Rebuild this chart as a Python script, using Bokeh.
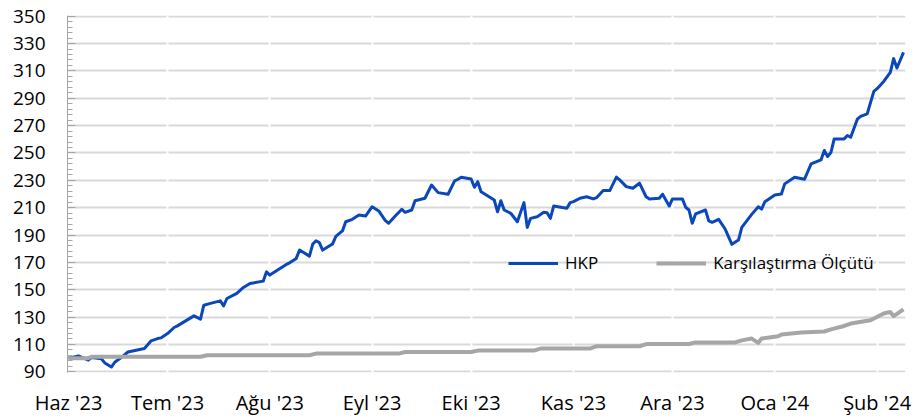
from bokeh.plotting import figure
from bokeh.models import Range1d, FixedTicker, Legend, LegendItem
from bokeh.embed import file_html
from bokeh.resources import INLINE

# days since 1 June 2023
hkp_day = [0, 3, 6, 7, 10, 11, 13, 14, 16, 18, 23, 25, 27, 28, 30, 32, 33, 35, 38, 40,
           41, 43, 46, 47, 48, 51, 53, 55, 59, 60, 61, 63, 66, 67, 69, 70, 73, 74, 75, 76,
           77, 80, 81, 83, 84, 86, 88, 90, 92, 94, 96, 97, 99, 101, 102, 104, 105, 108, 110, 112,
           115, 117, 118, 119, 122, 123, 124, 125, 129, 130, 131, 132, 134, 136, 138, 139, 140, 142, 144, 145,
           146, 147, 151, 152, 153, 155, 157, 159, 160, 162, 164, 166, 167, 169, 171, 173, 175, 176, 179, 180,
           182, 183, 186, 187, 188, 189, 190, 193, 194, 195, 197, 199, 201, 203, 204, 207, 209, 210, 211, 214,
           216, 217, 220, 223, 225, 228, 229, 230, 231, 232, 235, 236, 237, 239, 240, 242, 244, 245, 247, 249,
           250, 251, 253]
hkp_val = [100, 101.6, 98.5, 100.5, 99.5, 96.5, 93.5, 97, 100.4, 104.5, 107, 112.6, 114.3, 114.8, 118, 122.4, 123.6, 126.5, 130.9, 128.5,
           138.7, 140, 141.9, 138.2, 143.6, 147.3, 151.7, 154.6, 156.3, 163.1, 160.7, 163.9, 168.5, 169.7, 172.9, 179, 174.6, 183.4, 185.8, 184.5,
           179, 183.4, 189, 193, 199.7, 201.5, 204.6, 203.9, 210.7, 207.6, 200.5, 198.6, 203.9, 208.8, 206.6, 208.3, 215.1, 216.9, 226.6, 221,
           219.8, 229.6, 230.8, 232.3, 231, 224.9, 229, 221.7, 215.6, 207, 215.1, 208.3, 205.9, 199.7, 213.7, 195.6, 202.2, 203.4, 206.6, 206.3,
           202.2, 211.2, 209.6, 213.7, 214.4, 216.9, 218, 216.4, 217.3, 222.5, 222.5, 232.3, 230.3, 225.4, 224.2, 227.9, 218, 216.4, 216.9, 219.8,
           211.2, 216.4, 216.4, 210.3, 208.3, 198.6, 205.4, 208.3, 200.3, 199.3, 201.5, 194.2, 183.2, 186.3, 195.6, 205.1, 210.7, 209, 214.4, 219.3,
           220, 227.4, 232.3, 230.8, 242, 244.9, 251.8, 247.4, 250.3, 260.3, 260.3, 262.8, 261.5, 274.7, 276.7, 278.6, 295, 297, 302.3, 308.9,
           319, 312.1, 323.5]

bench_day = [0, 6, 7, 40, 42, 73, 75, 100, 102, 122, 124, 141, 143, 158, 160, 173, 175, 188, 190, 202,
             204, 207, 209, 210, 215, 216, 222, 229, 231, 235, 237, 243, 247, 249, 250, 253]
bench_val = [100, 100, 101, 101, 102.1, 102.1, 103.3, 103.3, 104.5, 104.5, 105.5, 105.5, 107, 107, 108.7, 108.7, 110.3, 110.3, 111.5, 111.5,
             113, 114.3, 111.2, 114.3, 116, 117.2, 118.7, 119.5, 121, 123.5, 125.3, 127.7, 132.6, 133.8, 130.7, 135.6]

month_day = [0, 30, 61, 92, 122, 153, 183, 214, 245]
month_label = ["Haz '23", "Tem '23", "Ağu '23", "Eyl '23", "Eki '23", "Kas '23", "Ara '23", "Oca '24", "Şub '24"]
y_ticks = list(range(90, 351, 20))
series_names = ["HKP", "Karşılaştırma Ölçütü"]

FONT = "Open Sans"

p = figure(width=920, height=419, output_backend="svg", toolbar_location=None,
           x_range=Range1d(-0.3, 253.6), y_range=Range1d(89.5, 350.5),
           min_border_left=67, min_border_right=15, min_border_top=15, min_border_bottom=47)
p.outline_line_color = None
p.background_fill_color = "white"

# axes
p.yaxis.ticker = FixedTicker(ticks=y_ticks, minor_ticks=[v for v in range(90, 351, 4)])
p.yaxis.axis_line_color = "#a6a6a6"
p.yaxis.major_tick_line_color = "#a6a6a6"
p.yaxis.minor_tick_line_color = "#a6a6a6"
p.yaxis.major_tick_in = 8
p.yaxis.major_tick_out = 0
p.yaxis.minor_tick_in = 5
p.yaxis.minor_tick_out = 0
p.yaxis.major_label_standoff = 22
p.yaxis.major_label_text_font = FONT
p.yaxis.major_label_text_font_size = "19px"
p.yaxis.major_label_text_color = "#000000"

p.xaxis.ticker = FixedTicker(ticks=month_day)
p.xaxis.major_label_overrides = {d: l for d, l in zip(month_day, month_label)}
p.xaxis.axis_line_color = None
p.xaxis.major_tick_line_color = None
p.xaxis.minor_tick_line_color = None
p.xaxis.major_tick_in = 0
p.xaxis.major_tick_out = 0
p.xaxis.major_label_standoff = 16
p.xaxis.major_label_text_font = FONT
p.xaxis.major_label_text_font_size = "20px"
p.xaxis.major_label_text_color = "#000000"

# grids
p.ygrid.ticker = FixedTicker(ticks=y_ticks)
p.ygrid.grid_line_color = "#d9d9d9"
p.ygrid.grid_line_width = 2
p.xgrid.ticker = FixedTicker(ticks=month_day[1:])
p.xgrid.grid_line_color = "white"
p.xgrid.grid_line_width = 2
xg = p.xgrid[0]
yg = p.ygrid[0]
p.center = [yg, xg] + [r for r in p.center if (r is not xg and r is not yg)]

r1 = p.line(hkp_day, hkp_val, line_color="#0a47bb", line_width=3, line_join="round")
r2 = p.line(bench_day, bench_val, line_color="#a6a6a6", line_width=4, line_join="round")

legend = Legend(items=[LegendItem(label=series_names[0], renderers=[r1]),
                       LegendItem(label=series_names[1], renderers=[r2])],
                location=(441, 98), orientation="horizontal",
                glyph_width=50, glyph_height=20, label_height=20, label_standoff=7,
                spacing=58, padding=0, margin=0,
                border_line_alpha=0, background_fill_alpha=0,
                label_text_font=FONT, label_text_font_size="17px", label_text_color="#000000")
p.add_layout(legend)

open("out.html", "w").write(file_html(p, INLINE))
